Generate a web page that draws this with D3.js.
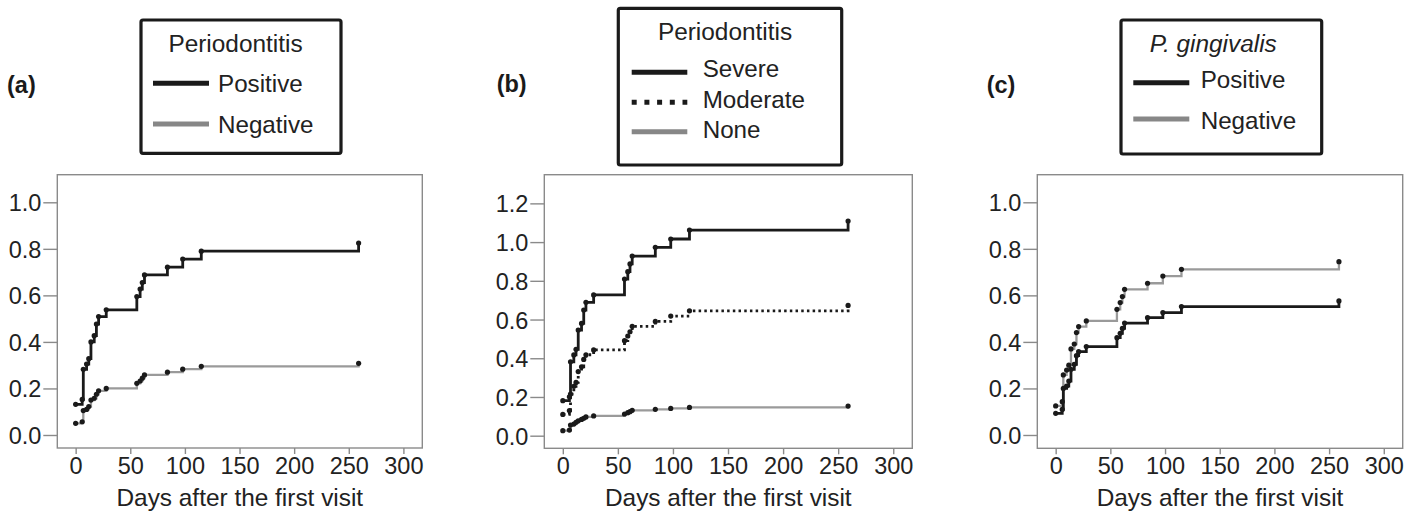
<!DOCTYPE html>
<html>
<head>
<meta charset="utf-8">
<script src="https://cdn.jsdelivr.net/npm/d3@7"></script>
<style>
  html, body { margin: 0; padding: 0; background: #fff; }
  svg { display: block; font-family: "Liberation Sans", Arial, Helvetica, sans-serif; }
</style>
</head>
<body>
<svg id="chart" width="1416" height="512"></svg>
<script>
// ---- Data ----
const times = [0, 6, 7, 10, 12, 14, 17, 19, 21, 28, 56, 59, 61, 63, 84, 98, 115, 259];
const xTicks = [0, 50, 100, 150, 200, 250, 300];
const yTicksAC = [0.0, 0.2, 0.4, 0.6, 0.8, 1.0];
const yTicksB = [0.0, 0.2, 0.4, 0.6, 0.8, 1.0, 1.2];
const xTitle = "Days after the first visit";

// (a) Periodontitis
const aPositive = [0.132, 0.153, 0.282, 0.305, 0.328, 0.400, 0.427, 0.477, 0.509, 0.538, 0.595, 0.627, 0.655, 0.688, 0.721, 0.756, 0.790, 0.825];
const aNegative = [0.050, 0.057, 0.105, 0.110, 0.122, 0.150, 0.158, 0.175, 0.190, 0.200, 0.222, 0.232, 0.244, 0.258, 0.270, 0.283, 0.295, 0.308];
// (b) Periodontitis severity
const bSevere   = [0.181, 0.201, 0.382, 0.417, 0.446, 0.546, 0.580, 0.649, 0.689, 0.727, 0.809, 0.847, 0.887, 0.928, 0.973, 1.016, 1.062, 1.109];
const bModerate = [0.110, 0.130, 0.215, 0.255, 0.275, 0.331, 0.356, 0.394, 0.418, 0.443, 0.491, 0.515, 0.537, 0.565, 0.590, 0.618, 0.645, 0.673];
const bNone     = [0.026, 0.029, 0.055, 0.060, 0.069, 0.077, 0.084, 0.090, 0.097, 0.102, 0.112, 0.119, 0.124, 0.131, 0.136, 0.141, 0.146, 0.153];
// (c) P. gingivalis
const cPositive = [0.093, 0.110, 0.200, 0.210, 0.232, 0.282, 0.304, 0.341, 0.358, 0.380, 0.418, 0.437, 0.458, 0.481, 0.504, 0.526, 0.552, 0.576];
const cNegative = [0.125, 0.143, 0.258, 0.279, 0.300, 0.370, 0.391, 0.440, 0.466, 0.490, 0.540, 0.569, 0.595, 0.626, 0.652, 0.683, 0.712, 0.745];

// ---- Styles ----
const styles = {
  black:  { stroke: "#1a1a1a", width: 2.8, dash: null, legendDash: null, legendColor: "#1a1a1a" },
  dotted: { stroke: "#1a1a1a", width: 2.8, dash: "2.5,3.2", legendDash: "5,7.7", legendColor: "#1a1a1a" },
  grey:   { stroke: "#9a9a9a", width: 2.3, dash: null, legendDash: null, legendColor: "#878787" }
};

const panels = [
  {
    label: "(a)", labelX: 7, labelY: 93,
    frame: { x0: 57.3, x1: 422.3, y0: 174.7, y1: 448 },
    yDomain: [-0.0559, 1.1186], yTicks: yTicksAC,
    series: [ { values: aNegative, style: "grey" }, { values: aPositive, style: "black" } ],
    legend: {
      box: { x: 141, y: 20, w: 200, h: 133.3 },
      title: "Periodontitis", italic: false, titleX: 235.5, titleY: 51.7,
      lineX0: 153, lineX1: 209, textX: 218,
      items: [ { name: "Positive", style: "black", ly: 83.3, ty: 91.7 },
               { name: "Negative", style: "grey", ly: 124, ty: 132.7 } ]
    }
  },
  {
    label: "(b)", labelX: 496.7, labelY: 92,
    frame: { x0: 544.3, x1: 912.3, y0: 174.7, y1: 448.3 },
    yDomain: [-0.0651, 1.3481], yTicks: yTicksB,
    series: [ { values: bNone, style: "grey" }, { values: bModerate, style: "dotted" }, { values: bSevere, style: "black" } ],
    legend: {
      box: { x: 618.3, y: 8.3, w: 223.4, h: 156.7 },
      title: "Periodontitis", italic: false, titleX: 725, titleY: 40,
      lineX0: 631.7, lineX1: 687.3, textX: 702.7,
      items: [ { name: "Severe", style: "black", ly: 72.3, ty: 77.3 },
               { name: "Moderate", style: "dotted", ly: 102.3, ty: 108.3 },
               { name: "None", style: "grey", ly: 131.7, ty: 138.3 } ]
    }
  },
  {
    label: "(c)", labelX: 986.7, labelY: 93,
    frame: { x0: 1037.3, x1: 1402.7, y0: 174.7, y1: 448.3 },
    yDomain: [-0.0572, 1.1186], yTicks: yTicksAC,
    series: [ { values: cNegative, style: "grey" }, { values: cPositive, style: "black" } ],
    legend: {
      box: { x: 1121, y: 20, w: 200.7, h: 134 },
      title: "P. gingivalis", italic: true, titleX: 1213.3, titleY: 51.7,
      lineX0: 1133.3, lineX1: 1189.3, textX: 1200.7,
      items: [ { name: "Positive", style: "black", ly: 82.7, ty: 88.3 },
               { name: "Negative", style: "grey", ly: 119, ty: 129.3 } ]
    }
  }
];

const svg = d3.select("#chart");
const xDomain = [-16.8, 317.3];
const frameColor = "#8a8a8a";
const textColor = "#222";

panels.forEach(p => {
  const f = p.frame;
  const x = d3.scaleLinear().domain(xDomain).range([f.x0, f.x1]);
  const y = d3.scaleLinear().domain(p.yDomain).range([f.y1, f.y0]);
  const g = svg.append("g");

  // Frame
  g.append("rect")
    .attr("x", f.x0).attr("y", f.y0)
    .attr("width", f.x1 - f.x0).attr("height", f.y1 - f.y0)
    .attr("fill", "none").attr("stroke", frameColor).attr("stroke-width", 1.4);

  // Y axis
  const yAxis = d3.axisLeft(y).tickValues(p.yTicks).tickFormat(d3.format(".1f")).tickSize(14).tickPadding(2);
  const ya = g.append("g").attr("transform", `translate(${f.x0},0)`).call(yAxis);
  ya.select(".domain").remove();
  ya.selectAll(".tick line").attr("stroke", frameColor).attr("stroke-width", 1.4);
  ya.selectAll(".tick text").attr("fill", textColor).style("font-size", "23.5px").attr("dy", "0.36em");

  // X axis
  const xAxis = d3.axisBottom(x).tickValues(xTicks).tickFormat(d3.format("d")).tickSize(6).tickPadding(3);
  const xa = g.append("g").attr("transform", `translate(0,${f.y1})`).call(xAxis);
  xa.select(".domain").remove();
  xa.selectAll(".tick line").attr("stroke", frameColor).attr("stroke-width", 1.4);
  xa.selectAll(".tick text").attr("fill", textColor).style("font-size", "23.5px");

  // X title
  g.append("text")
    .attr("x", (f.x0 + f.x1) / 2).attr("y", 506)
    .attr("text-anchor", "middle").attr("fill", textColor)
    .style("font-size", "24.4px").text(xTitle);

  // Series
  const line = d3.line().x(d => x(d[0])).y(d => y(d[1])).curve(d3.curveStepAfter);
  p.series.forEach(s => {
    const st = styles[s.style];
    const pts = times.map((t, i) => [t, s.values[i]]);
    g.append("path").datum(pts)
      .attr("d", line)
      .attr("fill", "none")
      .attr("stroke", st.stroke)
      .attr("stroke-width", st.width)
      .attr("stroke-dasharray", st.dash)
      .attr("stroke-linejoin", "miter");
    g.selectAll(null).data(pts).enter().append("circle")
      .attr("cx", d => x(d[0])).attr("cy", d => y(d[1]))
      .attr("r", 2.6).attr("fill", "#1a1a1a");
  });

  // Panel label
  svg.append("text")
    .attr("x", p.labelX).attr("y", p.labelY)
    .attr("fill", "#1a1a1a").style("font-size", "23.5px").style("font-weight", "bold")
    .text(p.label);

  // Legend
  const L = p.legend;
  const lg = svg.append("g");
  lg.append("rect")
    .attr("x", L.box.x).attr("y", L.box.y).attr("width", L.box.w).attr("height", L.box.h)
    .attr("rx", 2).attr("fill", "#fff").attr("stroke", "#1a1a1a").attr("stroke-width", 3.2);
  lg.append("text")
    .attr("x", L.titleX).attr("y", L.titleY).attr("text-anchor", "middle")
    .attr("fill", textColor).style("font-size", "24.4px")
    .style("font-style", L.italic ? "italic" : "normal")
    .text(L.title);
  L.items.forEach(it => {
    const st = styles[it.style];
    lg.append("line")
      .attr("x1", L.lineX0).attr("x2", L.lineX1).attr("y1", it.ly).attr("y2", it.ly)
      .attr("stroke", st.legendColor).attr("stroke-width", 5)
      .attr("stroke-dasharray", st.legendDash);
    lg.append("text")
      .attr("x", L.textX).attr("y", it.ty)
      .attr("fill", textColor).style("font-size", "24.2px")
      .text(it.name);
  });
});
</script>
</body>
</html>
